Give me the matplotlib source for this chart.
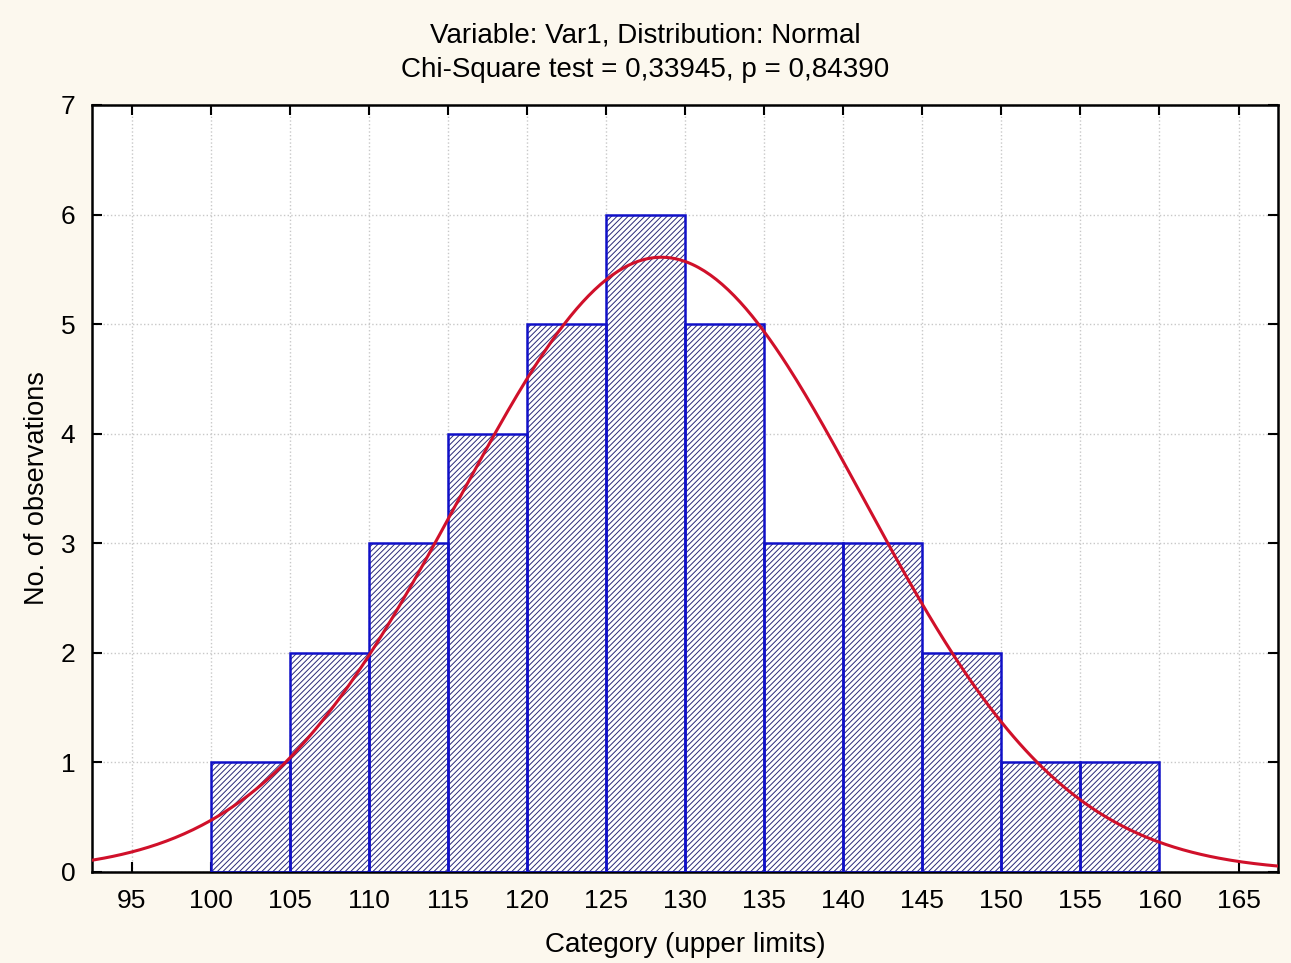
import numpy as np
import matplotlib.pyplot as plt

# данные гистограммы (верхние границы интервалов и частоты)
upper_limits = [105, 110, 115, 120, 125, 130, 135, 140, 145, 150, 155, 160]
counts = [1, 2, 3, 4, 5, 6, 5, 3, 3, 2, 1, 1]
bin_width = 5

# параметры подогнанного нормального распределения
fit_mean = 128.5
fit_sd = 12.8

x_ticks = list(range(95, 170, 5))
y_ticks = list(range(0, 8))

plt.rcParams['font.family'] = ['Liberation Sans', 'DejaVu Sans']
plt.rcParams['hatch.linewidth'] = 0.7

bg = '#fcf8ee'
fig = plt.figure(figsize=(12.91, 9.63), dpi=100, facecolor=bg)
ax = fig.add_axes([0.0713, 0.0945, 0.9187, 0.7965])
ax.set_facecolor('white')

lefts = [u - bin_width for u in upper_limits]
# штриховка
ax.bar(lefts, counts, width=bin_width, align='edge', color='white',
       edgecolor='#2a2a78', hatch='//////', linewidth=0, zorder=2)
# контур столбцов
ax.bar(lefts, counts, width=bin_width, align='edge', color='none',
       edgecolor='#1010c8', linewidth=1.8, zorder=3)

n = sum(counts)
xs = np.linspace(92.5, 167.5, 400)
ys = n * bin_width * np.exp(-0.5 * ((xs - fit_mean) / fit_sd) ** 2) / (fit_sd * np.sqrt(2 * np.pi))
ax.plot(xs, ys, color='#d0102a', linewidth=2.2, zorder=4)

ax.set_xlim(92.5, 167.5)
ax.set_ylim(0, 7)
ax.set_xticks(x_ticks)
ax.set_yticks(y_ticks)
ax.tick_params(direction='in', top=True, right=True, length=7, width=1.5,
               labelsize=19, pad=12)
ax.tick_params(axis='y', pad=12)
for s in ax.spines.values():
    s.set_linewidth(1.8)
ax.grid(True, linestyle=':', color='#c8c8c8', linewidth=1, zorder=0)
ax.set_axisbelow(True)

ax.set_xlabel('Category (upper limits)', fontsize=20, labelpad=14)
ax.set_ylabel('No. of observations', fontsize=19.5, labelpad=8)
fig.text(0.5, 0.963, 'Variable: Var1, Distribution: Normal', ha='center', va='center', fontsize=20)
fig.text(0.5, 0.927, 'Chi-Square test = 0,33945, p = 0,84390', ha='center', va='center', fontsize=20)

fig.savefig('out.png', dpi=100, facecolor=bg)
